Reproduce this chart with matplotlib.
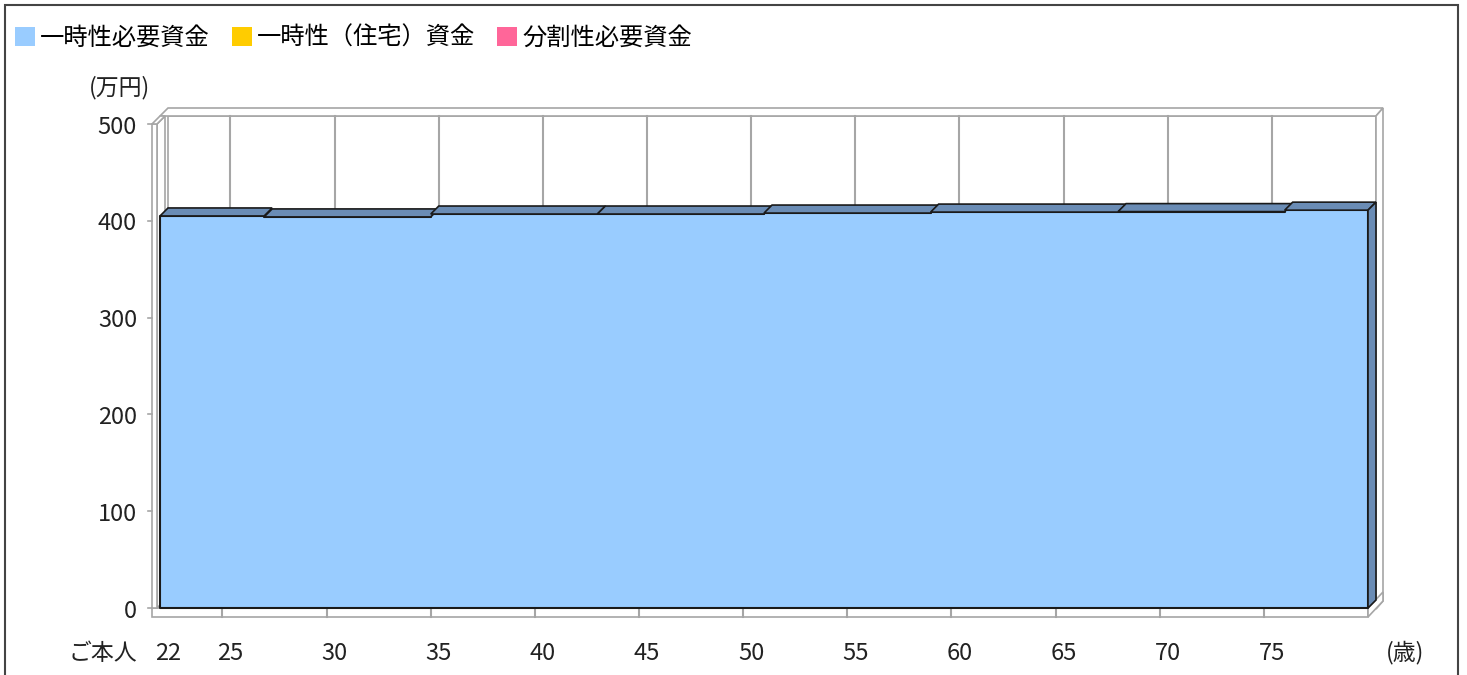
import matplotlib
matplotlib.use("Agg")
import matplotlib.pyplot as plt
from matplotlib.patches import Polygon, Patch, Rectangle

plt.rcParams["font.family"] = ["Noto Sans CJK JP", "DejaVu Sans"]

# ------------------------------------------------------------
# Data
# ------------------------------------------------------------
legend_labels = ["一時性必要資金", "一時性（住宅）資金", "分割性必要資金"]
legend_colors = ["#99CCFF", "#FFCC00", "#FF6699"]

# step start ages and amounts (万円) of 一時性必要資金
step_ages = [22, 27, 35, 43, 51, 59, 68, 76]
step_values = [405, 404, 407, 407, 408, 409, 409.5, 411]
end_age = 80

x_ticks = [22, 25, 30, 35, 40, 45, 50, 55, 60, 65, 70, 75]
y_ticks = [0, 100, 200, 300, 400, 500]

# ------------------------------------------------------------
# Layout (pixel based pseudo-3D box)
# ------------------------------------------------------------
W, H = 1467, 675
X0, X1 = 160, 1368      # px of first / last age on front plane
Y0 = 608                # px (from top) of value 0
PX_UNIT = 0.968         # px per 万円

fig = plt.figure(figsize=(W / 100, H / 100), dpi=100)
ax = fig.add_axes([0, 0, 1, 1])
px_yr = (X1 - X0) / (end_age - step_ages[0])
ax.set_xlim(step_ages[0] - X0 / px_yr, step_ages[0] + (W - X0) / px_yr)
ax.set_ylim(-(H - Y0) / PX_UNIT, Y0 / PX_UNIT)
ax.axis("off")


def dx(p):
    return p / px_yr


def dy(p):
    return p / PX_UNIT


def poly(pts, fc, ec, lw=1.2, z=1):
    ax.add_patch(Polygon(pts, closed=True, facecolor=fc, edgecolor=ec,
                         linewidth=lw, zorder=z, joinstyle="miter"))


GRAY = "#a6a6a6"
EDGE = "#1a1a1a"
TOP = "#6a8cb5"
DX, DY = dx(8), dy(8)
TX, TY = dx(7), dy(8)
FL = dy(9)

xa, xb = step_ages[0], end_age
ymax = y_ticks[-1]

# back wall
poly([(xa + DX, DY), (xb + DX, DY), (xb + DX, ymax + DY), (xa + DX, ymax + DY)],
     "white", GRAY)
poly([(xa + DX - dx(8), ymax + DY), (xb + DX, ymax + DY),
      (xb + DX + TX, ymax + DY + TY), (xa + DX, ymax + DY + TY)], "white", GRAY)
poly([(xb + DX, DY - FL), (xb + DX, ymax + DY),
      (xb + DX + TX, ymax + DY + TY), (xb + DX + TX, DY + TY - FL)], "white", GRAY)

# floor
poly([(xa - dx(8), 0), (xb, 0), (xb + DX, DY), (xa, DY)], "white", GRAY)
poly([(xa - dx(8), -FL), (xb, -FL), (xb, 0), (xa - dx(8), 0)], "white", GRAY)
poly([(xb, -FL), (xb, 0), (xb + DX + TX, DY + TY), (xb + DX + TX, DY + TY - FL)],
     "white", GRAY)

# left wall
lw_out, lw_in = xa - dx(8), xa - dx(3)
poly([(lw_in, 0), (lw_in + DX, DY), (lw_in + DX, ymax + DY), (lw_in, ymax)],
     "white", GRAY)
poly([(lw_out, 0), (lw_in, 0), (lw_in, ymax), (lw_out, ymax)], "white", GRAY)
poly([(lw_out, ymax), (lw_in, ymax), (lw_in + DX, ymax + DY), (lw_out + DX, ymax + DY)],
     "white", GRAY)

# grid lines on back wall, ticks on floor and left wall
for t in x_ticks[1:]:
    ax.plot([t + DX, t + DX], [DY, ymax + DY], color=GRAY, lw=1.5, zorder=2)
    ax.plot([t, t], [-FL, 0], color=GRAY, lw=1.5, zorder=2)
for v in y_ticks:
    ax.plot([xa - dx(12), lw_out], [v, v], color=GRAY, lw=1.2, zorder=2)

# area (front face)
xs = step_ages + [end_age]
ys = step_values + [step_values[-1]]
ax.fill_between(xs, 0, ys, step="post", facecolor="#99CCFF", edgecolor=EDGE,
                linewidth=1.5, zorder=3)

# top faces of each step
for i, v in enumerate(step_values):
    x0 = step_ages[i]
    x1 = step_ages[i + 1] if i + 1 < len(step_ages) else end_age
    poly([(x0, v), (x1, v), (x1 + DX, v + DY), (x0 + DX, v + DY)], TOP, EDGE, 1.2, 4)

# right side face
vl = step_values[-1]
poly([(xb, 0), (xb, vl), (xb + DX, vl + DY), (xb + DX, DY)], TOP, EDGE, 1.2, 4)

# ------------------------------------------------------------
# Texts
# ------------------------------------------------------------
FS = 17
for v in y_ticks:
    ax.text(xa - dx(23), v - dy(3), str(v), ha="right", va="center",
            fontsize=FS, color="#222222")
for t in x_ticks:
    ax.text(t + dx(8), -dy(45), str(t), ha="center", va="center",
            fontsize=FS, color="#222222")
ax.text(xa - dx(57), -dy(45), "ご本人", ha="center", va="center",
        fontsize=16.5, color="#222222")
ax.text(xb + dx(37), -dy(45), "(歳)", ha="center", va="center",
        fontsize=16.5, color="#222222")
ax.text(xa - dx(41), ymax + dy(36), "(万円)", ha="center", va="center",
        fontsize=16.5, color="#222222")

handles = [Patch(facecolor=c, edgecolor="none") for c in legend_colors]
ax.legend(handles, legend_labels, loc="upper left",
          bbox_to_anchor=(15 / W, 1 - 25 / H), bbox_transform=fig.transFigure,
          ncol=3, frameon=False, fontsize=17.5, handlelength=0.82, handleheight=0.82,
          handletextpad=0.22, columnspacing=0.9, borderpad=0, borderaxespad=0)

# outer frame
fig.add_artist(Rectangle((5 / W, -0.1), 1453 / W, 1.1 - 5 / H, fill=False,
                         edgecolor="#444444", linewidth=1.5,
                         transform=fig.transFigure))

fig.savefig("out.png", dpi=100)
